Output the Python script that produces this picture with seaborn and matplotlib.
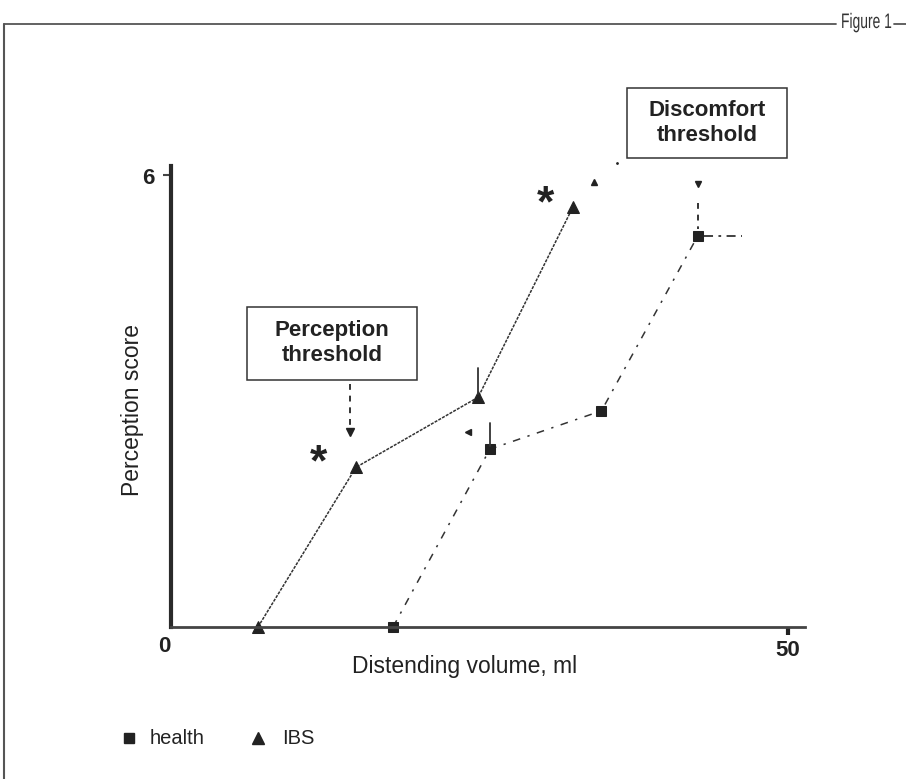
import matplotlib
matplotlib.use("Agg")
import matplotlib.pyplot as plt
import seaborn as sns
import pandas as pd
from matplotlib.lines import Line2D
from matplotlib.patches import Rectangle, PathPatch
from matplotlib.textpath import TextPath
from matplotlib.font_manager import FontProperties
from matplotlib.transforms import Affine2D

sns.set_theme(style="white")
plt.rcParams['font.family'] = ['Liberation Sans', 'DejaVu Sans']

# Data
ibs_volume = [7.05, 15.0, 24.9, 32.6]
ibs_score = [0.0, 2.12, 3.05, 5.58]
health_volume = [18.0, 25.85, 34.9, 42.7]
health_score = [0.0, 2.36, 2.87, 5.19]
x_ticks = [0, 50]
y_ticks = [0, 6]
legend_labels = ["health", "IBS"]

W, H = 906, 779
fig = plt.figure(figsize=(W / 100, H / 100), dpi=100)
ax = fig.add_axes([171 / W, 1 - 627 / H, (805 - 171) / W, (627 - 166) / H])

df_ibs = pd.DataFrame({"volume": ibs_volume, "score": ibs_score})
df_h = pd.DataFrame({"volume": health_volume, "score": health_score})

sns.lineplot(data=df_ibs, x="volume", y="score", ax=ax, color="#333333",
             linewidth=1.1, linestyle=(0, (2, 0.8)), marker="^", markersize=8,
             markeredgecolor="#222222", markerfacecolor="#222222", clip_on=False)
sns.lineplot(data=df_h, x="volume", y="score", ax=ax, color="#333333",
             linewidth=1.1, linestyle=(0, (5, 5, 1.5, 5)), marker="s", markersize=6.5,
             markeredgecolor="#222222", markerfacecolor="#222222", clip_on=False)

ax.set_xlim(0, 51.4)
ax.set_ylim(0, 6.12)

for s in ["top", "right"]:
    ax.spines[s].set_visible(False)
ax.spines["left"].set_linewidth(3.0)
ax.spines["left"].set_color("#2a2a2a")
ax.spines["bottom"].set_linewidth(2.0)
ax.spines["bottom"].set_color("#444444")

ax.set_xticks([x_ticks[1]])
ax.set_xticklabels([])
ax.set_yticks([y_ticks[1]])
ax.set_yticklabels([])
ax.tick_params(axis="x", direction="out", length=6, width=3, color="#222222", bottom=True)
ax.tick_params(axis="y", direction="out", length=6, width=1.5, color="#444444", left=True)
ax.set_xlabel("")
ax.set_ylabel("")

# tick labels
fig.text(164 / W, 1 - 647 / H, str(y_ticks[0]), ha="center", va="center", fontsize=16, fontweight="bold", color="#222222")
fig.text(148 / W, 1 - 178 / H, str(y_ticks[1]), ha="center", va="center", fontsize=16, fontweight="bold", color="#222222")
fig.text(788 / W, 1 - 651 / H, str(x_ticks[1]), ha="center", va="center", fontsize=16, fontweight="bold", color="#222222")

fig.text(465 / W, 1 - 667 / H, "Distending volume, ml", ha="center", va="center", fontsize=16.5, color="#222222")
fig.text(132 / W, 1 - 410 / H, "Perception score", ha="center", va="center", rotation=90, fontsize=16.5, color="#222222")

# annotation boxes
def frect(x0, y0, x1, y1):
    fig.add_artist(Rectangle((x0 / W, 1 - y1 / H), (x1 - x0) / W, (y1 - y0) / H,
                             transform=fig.transFigure, fc="white", ec="#333333", lw=1.1))

frect(247, 307, 417, 380)
fig.text(332 / W, 1 - 343 / H, "Perception\nthreshold", ha="center", va="center", fontsize=16,
         fontweight="bold", color="#222222", linespacing=1.2)
frect(627, 88, 787, 158)
fig.text(707 / W, 1 - 123 / H, "Discomfort\nthreshold", ha="center", va="center", fontsize=16,
         fontweight="bold", color="#222222", linespacing=1.2)

# asterisks
fig.text(318 / W, 1 - 464 / H, "*", ha="center", va="center", fontsize=32, fontweight="bold", color="#222222")
fig.text(545 / W, 1 - 205 / H, "*", ha="center", va="center", fontsize=32, fontweight="bold", color="#222222")

def fline(x0, y0, x1, y1, **kw):
    fig.add_artist(Line2D([x0 / W, x1 / W], [1 - y0 / H, 1 - y1 / H], transform=fig.transFigure, **kw))

def fmark(x, y, marker, size, **kw):
    fig.add_artist(Line2D([x / W], [1 - y / H], transform=fig.transFigure, marker=marker,
                          markersize=size, color="#222222", linestyle="none", **kw))

# arrows and extra marks
fline(350, 384, 350, 428, color="#333333", lw=1.4, linestyle=(0, (3, 3)))
fmark(350, 432, "v", 6)
fline(478, 368, 478, 394, color="#333333", lw=1.3)
fline(490, 423, 490, 446, color="#333333", lw=1.3)
fmark(468, 432, "<", 5)
fline(698, 203, 698, 229, color="#333333", lw=1.4, linestyle=(0, (3, 3)))
fmark(698, 184, "v", 5)
fline(704, 236, 742, 236, color="#333333", lw=1.3, linestyle=(0, (5, 3, 1.5, 3)))
fmark(594, 182, "^", 5)
fmark(617, 163, ".", 2)

# frame
fline(4, 24, 836, 24, color="#555555", lw=1.3)
fline(4, 24, 4, 779, color="#555555", lw=1.5)
fline(894, 24, 906, 24, color="#555555", lw=1.3)

# condensed "Figure 1"
tp = TextPath((0, 0), "Figure 1", size=21, prop=FontProperties(family="Liberation Sans"))
tr = Affine2D().scale(0.66, 1).translate(841, H - 28).scale(1 / W, 1 / H) + fig.transFigure
fig.add_artist(PathPatch(tp, transform=tr, fc="#333333", ec="none"))

# legend
fmark(129, 738, "s", 7)
fig.text(150 / W, 1 - 738 / H, legend_labels[0], ha="left", va="center", fontsize=14.5, color="#222222")
fmark(258, 738, "^", 8.5)
fig.text(282 / W, 1 - 738 / H, legend_labels[1], ha="left", va="center", fontsize=14.5, color="#222222")

fig.savefig("out.png", dpi=100)
